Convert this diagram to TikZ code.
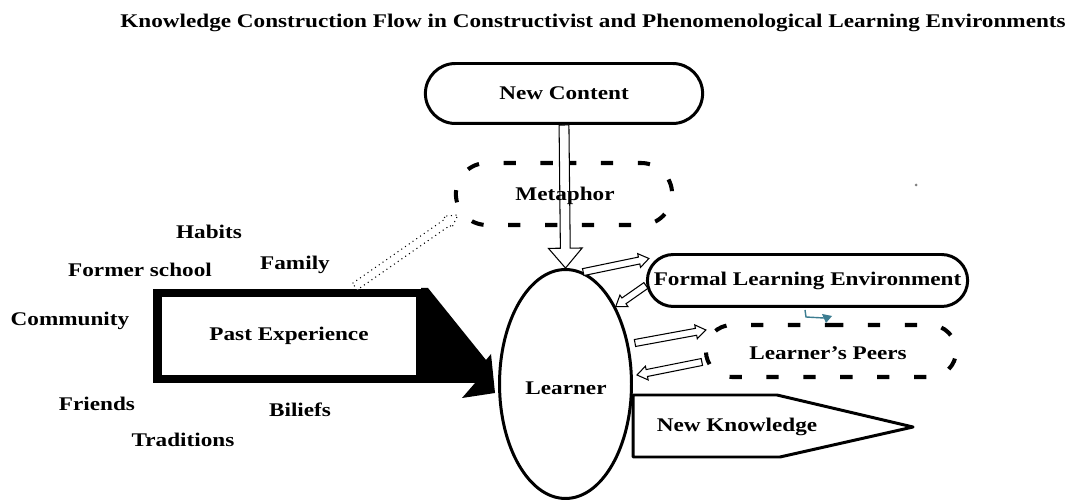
\documentclass[tikz,border=0pt]{standalone}
\usepackage{fontspec}
\setmainfont[FakeStretch=1.2]{Liberation Serif}
\usetikzlibrary{positioning}
\usetikzlibrary{calc}
\usetikzlibrary{shapes.geometric}
\usetikzlibrary{shapes.misc}
\definecolor{speckteal}{RGB}{60,125,145}
% hollow block arrow: [style]{from}{to}{half shaft}{half head}{head length}
\newcommand{\hollowarrow}[6][]{%
  \path (#2) coordinate (ha-s) (#3) coordinate (ha-e);
  \path ($(ha-e)!#6!(ha-s)$) coordinate (ha-h);
  \draw[hollow,#1] ($(ha-s)!#4!90:(ha-e)$) -- ($(ha-h)!#4!90:(ha-e)$)
    -- ($(ha-h)!#5!90:(ha-e)$) -- (ha-e) -- ($(ha-h)!#5!-90:(ha-e)$)
    -- ($(ha-h)!#4!-90:(ha-e)$) -- ($(ha-s)!#4!-90:(ha-e)$) -- cycle;
}

\begin{document}
\begin{tikzpicture}[x=0.02cm,y=-0.02cm]
  \tikzset{
    lbl/.style={font=\bfseries\fontsize{11}{13}\selectfont},
    hollow/.style={draw=black,fill=white,line width=0.6pt},
    roundbox/.style={rounded rectangle,draw,line width=1.7pt,lbl},
    dashbox/.style={rounded rectangle,draw,line width=2.3pt,dash pattern=on 7pt off 14pt,lbl},
  }
  \useasboundingbox (0,0) rectangle (1077,502);
  %TITLE
  \node[lbl] (title) at (593,23) {Knowledge Construction Flow in Constructivist and Phenomenological Learning Environments};
  %NEW CONTENT
  \node[roundbox,minimum width=5.78cm,minimum height=1.2cm] (content) at (564,93.5) {New Content};
  %METAPHOR
  \node[dashbox,minimum width=4.56cm,minimum height=1.24cm] (metaphor) at (564,194) {};
  %LEARNER
  \node[ellipse,draw,line width=1.7pt,minimum width=2.64cm,minimum height=4.58cm] (learner) at (565.5,384) {};
  %FORMAL ENVIRONMENT
  \node[roundbox,minimum width=6.64cm,minimum height=1.04cm] (fle) at (807.5,280.5) {Formal Learning Environment};
  %PEERS
  \node[dashbox,minimum width=5.24cm,minimum height=1.04cm] (peers) at (831,351) {};
  %PAST EXPERIENCE
  \fill (421,288) -- (428,288) -- (486,360) -- (491,354) -- (495,393) -- (462,398) -- (475,383) -- (421,383) -- cycle;
  \node[draw,line width=5pt,fill=white,minimum width=5.26cm,minimum height=1.72cm,lbl] (pe) at (289,336) {Past Experience};
  %NEW KNOWLEDGE
  \draw[line width=1.7pt,line join=round] (633,395) -- (777,395) -- (913,427) -- (780,457) -- (633,457) -- cycle;
  \node[lbl] (nk) at (737,427) {New Knowledge};
  %ARROWS
  \hollowarrow{content.south}{learner.north}{2.8pt}{9.6pt}{11.3pt}
  \hollowarrow[dotted]{$(pe.north east)+(-70,-2)$}{$(metaphor.west)+(4,21)$}{2.3pt}{4pt}{7pt}
  \hollowarrow{learner.81}{$(fle.west)+(3,-22)$}{2pt}{4pt}{5.7pt}
  \hollowarrow{$(fle.west)+(0,5)$}{learner.57}{2pt}{4pt}{5.7pt}
  \hollowarrow{$(learner.east)+(2,-41)$}{$(peers.west)+(2,-21)$}{2pt}{4pt}{5.7pt}
  \hollowarrow{$(peers.west)+(-2,11)$}{$(learner.east)+(4,-9)$}{2pt}{4pt}{5.7pt}
  %TEXTS
  \node[lbl] (metaphortext) at (565,196) {Metaphor};
  \node[lbl] (learnertext) at (566,388) {Learner};
  \node[lbl] (peerstext) at (828,353) {Learner's Peers};
  %WORDS
  \foreach \wtext/\wx/\wy [count=\i] in {Habits/209/232,Former school/140/270,Family/295/265,
      Community/70/321,Friends/97/404,Biliefs/300/410,Traditions/183/440}{
    \node[lbl] (word\i) at (\wx,\wy) {\wtext};
  }
  %SPECKS
  \draw[speckteal,line width=0.8pt] (805,310) -- (806,317) -- (824,318);
  \fill[speckteal] (822,314) -- (832,316) -- (826,323) -- cycle;
  \fill[gray] (916,185) circle (1.5);
\end{tikzpicture}
\end{document}
